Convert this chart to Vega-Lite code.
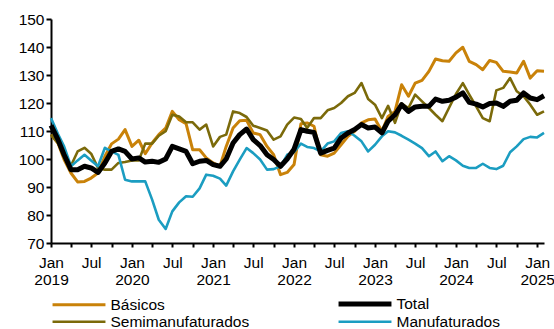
{
  "$schema": "https://vega.github.io/schema/vega-lite/v6.json",
  "width": 493,
  "height": 224,
  "autosize": {"type": "none"},
  "padding": {"left": 51, "top": 19, "right": 10, "bottom": 86},
  "background": "white",
  "config": {
    "view": {"stroke": null},
    "font": "Liberation Sans",
    "axis": {"labelFont": "Liberation Sans", "labelColor": "black", "domainColor": "black", "tickColor": "black", "grid": false, "title": null},
    "legend": {"labelFont": "Liberation Sans"}
  },
  "data": {
    "values": [
      {"d": "2019-01-01", "Básicos": 108.7, "Total": 112, "Semimanufaturados": 108.7, "Manufaturados": 114.6},
      {"d": "2019-02-01", "Básicos": 105.7, "Total": 107, "Semimanufaturados": 105.7, "Manufaturados": 109},
      {"d": "2019-03-01", "Básicos": 99.8, "Total": 101.5, "Semimanufaturados": 101, "Manufaturados": 104.5},
      {"d": "2019-04-01", "Básicos": 95, "Total": 96.2, "Semimanufaturados": 97.6, "Manufaturados": 97.4},
      {"d": "2019-05-01", "Básicos": 91.8, "Total": 96.2, "Semimanufaturados": 102.7, "Manufaturados": 99.5},
      {"d": "2019-06-01", "Básicos": 92, "Total": 97.4, "Semimanufaturados": 104, "Manufaturados": 101.5},
      {"d": "2019-07-01", "Básicos": 93.2, "Total": 96.8, "Semimanufaturados": 101.9, "Manufaturados": 99.5},
      {"d": "2019-08-01", "Básicos": 95, "Total": 95.2, "Semimanufaturados": 96.8, "Manufaturados": 97.4},
      {"d": "2019-09-01", "Básicos": 101, "Total": 98.6, "Semimanufaturados": 96.2, "Manufaturados": 104},
      {"d": "2019-10-01", "Básicos": 105.4, "Total": 102.7, "Semimanufaturados": 96.2, "Manufaturados": 102.7},
      {"d": "2019-11-01", "Básicos": 107.1, "Total": 103.6, "Semimanufaturados": 98.6, "Manufaturados": 101.5},
      {"d": "2019-12-01", "Básicos": 110.5, "Total": 102.7, "Semimanufaturados": 98.9, "Manufaturados": 92.6},
      {"d": "2020-01-01", "Básicos": 104.5, "Total": 100, "Semimanufaturados": 99.5, "Manufaturados": 92},
      {"d": "2020-02-01", "Básicos": 106.7, "Total": 100.4, "Semimanufaturados": 99.5, "Manufaturados": 92},
      {"d": "2020-03-01", "Básicos": 101.9, "Total": 98.9, "Semimanufaturados": 105.5, "Manufaturados": 92},
      {"d": "2020-04-01", "Básicos": 105.7, "Total": 99.2, "Semimanufaturados": 105.5, "Manufaturados": 85.5},
      {"d": "2020-05-01", "Básicos": 108.7, "Total": 98.8, "Semimanufaturados": 108.3, "Manufaturados": 78.3},
      {"d": "2020-06-01", "Básicos": 111, "Total": 100, "Semimanufaturados": 109.9, "Manufaturados": 75},
      {"d": "2020-07-01", "Básicos": 117, "Total": 104.5, "Semimanufaturados": 115.8, "Manufaturados": 81.3},
      {"d": "2020-08-01", "Básicos": 114, "Total": 103.6, "Semimanufaturados": 115.2, "Manufaturados": 84.5},
      {"d": "2020-09-01", "Básicos": 112.6, "Total": 102.7, "Semimanufaturados": 113.1, "Manufaturados": 86.7},
      {"d": "2020-10-01", "Básicos": 103.3, "Total": 98.3, "Semimanufaturados": 113.1, "Manufaturados": 86.5},
      {"d": "2020-11-01", "Básicos": 103.3, "Total": 99.2, "Semimanufaturados": 110.5, "Manufaturados": 89.5},
      {"d": "2020-12-01", "Básicos": 100.4, "Total": 99.5, "Semimanufaturados": 112.3, "Manufaturados": 94.4},
      {"d": "2021-01-01", "Básicos": 98.6, "Total": 98, "Semimanufaturados": 104.5, "Manufaturados": 94},
      {"d": "2021-02-01", "Básicos": 97.4, "Total": 97.4, "Semimanufaturados": 107.9, "Manufaturados": 93},
      {"d": "2021-03-01", "Básicos": 104.5, "Total": 100, "Semimanufaturados": 108.7, "Manufaturados": 90.5},
      {"d": "2021-04-01", "Básicos": 111.1, "Total": 105.7, "Semimanufaturados": 117, "Manufaturados": 95.6},
      {"d": "2021-05-01", "Básicos": 113.7, "Total": 108.7, "Semimanufaturados": 116.4, "Manufaturados": 99.8},
      {"d": "2021-06-01", "Básicos": 113.8, "Total": 110.7, "Semimanufaturados": 115, "Manufaturados": 103.9},
      {"d": "2021-07-01", "Básicos": 109.3, "Total": 106.9, "Semimanufaturados": 111.9, "Manufaturados": 102.1},
      {"d": "2021-08-01", "Básicos": 108.7, "Total": 104.8, "Semimanufaturados": 111.1, "Manufaturados": 99.8},
      {"d": "2021-09-01", "Básicos": 104.5, "Total": 101.5, "Semimanufaturados": 110.2, "Manufaturados": 96.2},
      {"d": "2021-10-01", "Básicos": 101.5, "Total": 99.8, "Semimanufaturados": 106.9, "Manufaturados": 96.4},
      {"d": "2021-11-01", "Básicos": 94.4, "Total": 97.4, "Semimanufaturados": 108.1, "Manufaturados": 97.4},
      {"d": "2021-12-01", "Básicos": 95.2, "Total": 100, "Semimanufaturados": 112.3, "Manufaturados": 101.5},
      {"d": "2022-01-01", "Básicos": 98, "Total": 103.5, "Semimanufaturados": 114.8, "Manufaturados": 102.5},
      {"d": "2022-02-01", "Básicos": 112.6, "Total": 110.5, "Semimanufaturados": 114.3, "Manufaturados": 105.5},
      {"d": "2022-03-01", "Básicos": 112.9, "Total": 109.9, "Semimanufaturados": 111.1, "Manufaturados": 104.3},
      {"d": "2022-04-01", "Básicos": 111.7, "Total": 109.5, "Semimanufaturados": 114.6, "Manufaturados": 103.9},
      {"d": "2022-05-01", "Básicos": 101.5, "Total": 102.1, "Semimanufaturados": 114.6, "Manufaturados": 102.7},
      {"d": "2022-06-01", "Básicos": 101, "Total": 103.1, "Semimanufaturados": 117.4, "Manufaturados": 105.5},
      {"d": "2022-07-01", "Básicos": 102.1, "Total": 103.9, "Semimanufaturados": 118.2, "Manufaturados": 106.3},
      {"d": "2022-08-01", "Básicos": 105.1, "Total": 107.5, "Semimanufaturados": 120, "Manufaturados": 109.3},
      {"d": "2022-09-01", "Básicos": 108.1, "Total": 109.3, "Semimanufaturados": 122.4, "Manufaturados": 109.9},
      {"d": "2022-10-01", "Básicos": 109.9, "Total": 110.5, "Semimanufaturados": 123.6, "Manufaturados": 108.3},
      {"d": "2022-11-01", "Básicos": 112.9, "Total": 112.3, "Semimanufaturados": 127.1, "Manufaturados": 106.3},
      {"d": "2022-12-01", "Básicos": 114, "Total": 111.1, "Semimanufaturados": 121.4, "Manufaturados": 102.7},
      {"d": "2023-01-01", "Básicos": 114.3, "Total": 111.4, "Semimanufaturados": 119.4, "Manufaturados": 105.1},
      {"d": "2023-02-01", "Básicos": 109.9, "Total": 109.3, "Semimanufaturados": 114.6, "Manufaturados": 108.1},
      {"d": "2023-03-01", "Básicos": 115.2, "Total": 113.5, "Semimanufaturados": 119, "Manufaturados": 109.9},
      {"d": "2023-04-01", "Básicos": 117, "Total": 115.8, "Semimanufaturados": 112.9, "Manufaturados": 109.5},
      {"d": "2023-05-01", "Básicos": 126.5, "Total": 119.4, "Semimanufaturados": 119.8, "Manufaturados": 108.3},
      {"d": "2023-06-01", "Básicos": 122.4, "Total": 117, "Semimanufaturados": 118.2, "Manufaturados": 106.9},
      {"d": "2023-07-01", "Básicos": 127.1, "Total": 118.6, "Semimanufaturados": 123, "Manufaturados": 105.5},
      {"d": "2023-08-01", "Básicos": 128.1, "Total": 118.8, "Semimanufaturados": 120.6, "Manufaturados": 103.9},
      {"d": "2023-09-01", "Básicos": 131.3, "Total": 118.8, "Semimanufaturados": 118.2, "Manufaturados": 101},
      {"d": "2023-10-01", "Básicos": 135.7, "Total": 121.4, "Semimanufaturados": 115.8, "Manufaturados": 102.7},
      {"d": "2023-11-01", "Básicos": 135.1, "Total": 120.6, "Semimanufaturados": 113.5, "Manufaturados": 99.2},
      {"d": "2023-12-01", "Básicos": 134.9, "Total": 121, "Semimanufaturados": 118.3, "Manufaturados": 101},
      {"d": "2024-01-01", "Básicos": 137.9, "Total": 122.1, "Semimanufaturados": 123.2, "Manufaturados": 99.5},
      {"d": "2024-02-01", "Básicos": 139.9, "Total": 123.6, "Semimanufaturados": 127.1, "Manufaturados": 97.6},
      {"d": "2024-03-01", "Básicos": 134.9, "Total": 120.2, "Semimanufaturados": 123, "Manufaturados": 96.8},
      {"d": "2024-04-01", "Básicos": 133.7, "Total": 119.6, "Semimanufaturados": 118.8, "Manufaturados": 96.8},
      {"d": "2024-05-01", "Básicos": 131.9, "Total": 118.6, "Semimanufaturados": 114.6, "Manufaturados": 98.3},
      {"d": "2024-06-01", "Básicos": 135.2, "Total": 119.8, "Semimanufaturados": 113.5, "Manufaturados": 96.8},
      {"d": "2024-07-01", "Básicos": 134.5, "Total": 120, "Semimanufaturados": 124.5, "Manufaturados": 96.4},
      {"d": "2024-08-01", "Básicos": 131.3, "Total": 118.8, "Semimanufaturados": 125.4, "Manufaturados": 97.6},
      {"d": "2024-09-01", "Básicos": 131.1, "Total": 120.6, "Semimanufaturados": 128.9, "Manufaturados": 102.4},
      {"d": "2024-10-01", "Básicos": 130.7, "Total": 121, "Semimanufaturados": 124.2, "Manufaturados": 104.5},
      {"d": "2024-11-01", "Básicos": 134.9, "Total": 123.6, "Semimanufaturados": 122.4, "Manufaturados": 107.1},
      {"d": "2024-12-01", "Básicos": 128.9, "Total": 121.8, "Semimanufaturados": 119.4, "Manufaturados": 107.9},
      {"d": "2025-01-01", "Básicos": 131.5, "Total": 121.2, "Semimanufaturados": 115.8, "Manufaturados": 107.7},
      {"d": "2025-02-01", "Básicos": 131.3, "Total": 122.6, "Semimanufaturados": 117, "Manufaturados": 109.3}
    ]
  },
  "transform": [
    {"fold": ["Básicos", "Semimanufaturados", "Manufaturados", "Total"], "as": ["s", "v"]}
  ],
  "mark": {"type": "line", "strokeJoin": "round", "strokeCap": "butt"},
  "encoding": {
    "x": {
      "field": "d",
      "type": "temporal",
      "scale": {
        "type": "utc",
        "domain": [{"year": 2019, "month": 1, "date": 1, "utc": true}, {"year": 2025, "month": 2, "date": 1, "utc": true}]
      },
      "axis": {
        "tickCount": {"interval": "month", "step": 3},
        "labelExpr": "utcmonth(datum.value) == 0 ? [utcFormat(datum.value, '%b'), utcFormat(datum.value, '%Y')] : (utcmonth(datum.value) == 6 ? 'Jul' : '')",
        "labelOverlap": false,
        "labelFlush": false,
        "labelAlign": "center",
        "labelBaseline": "top",
        "labelFontSize": 15.5,
        "labelLineHeight": 17,
        "labelPadding": 8,
        "tickSize": 4,
        "tickWidth": 2,
        "domainWidth": 2
      }
    },
    "y": {
      "field": "v",
      "type": "quantitative",
      "scale": {"domain": [70, 150], "nice": false, "zero": false},
      "axis": {
        "values": [70, 80, 90, 100, 110, 120, 130, 140, 150],
        "labelFontSize": 15.5,
        "labelPadding": 2,
        "tickSize": 5,
        "tickWidth": 2,
        "domainWidth": 2
      }
    },
    "color": {
      "field": "s",
      "type": "nominal",
      "scale": {
        "domain": ["Básicos", "Total", "Semimanufaturados", "Manufaturados"],
        "range": ["#C98209", "#000000", "#7B6A0A", "#1B9DC1"]
      },
      "legend": {
        "title": null,
        "orient": "none",
        "direction": "horizontal",
        "legendX": 20,
        "legendY": 277,
        "columns": 2,
        "columnPadding": 78,
        "rowPadding": -2,
        "padding": 0,
        "symbolType": "M-5,0H5",
        "symbolSize": 112,
        "labelOffset": 23.5,
        "labelFontSize": 15.5,
        "labelColor": "black",
        "labelLimit": 300
      }
    },
    "strokeWidth": {
      "field": "s",
      "type": "nominal",
      "scale": {
        "type": "ordinal",
        "domain": ["Básicos", "Total", "Semimanufaturados", "Manufaturados"],
        "range": [3, 5, 2.6, 2.6]
      }
    }
  }
}
